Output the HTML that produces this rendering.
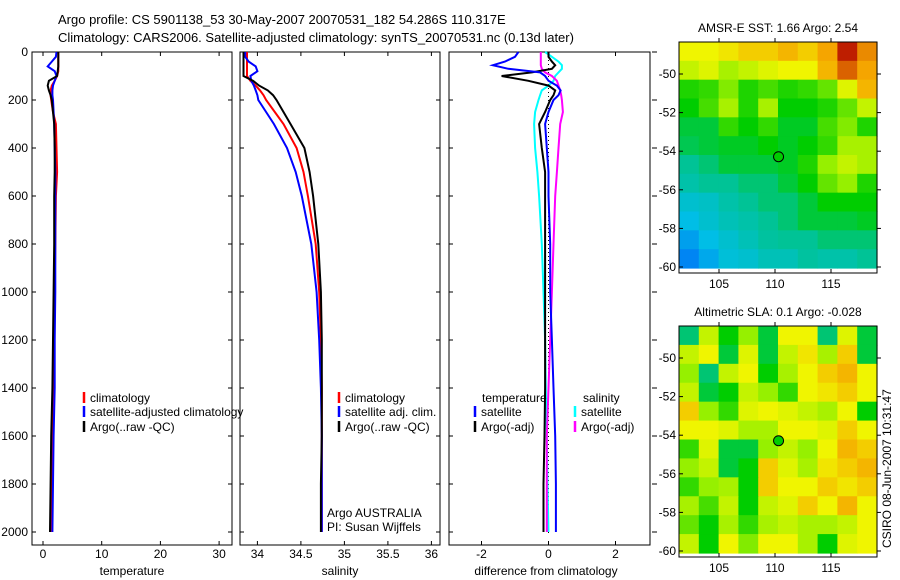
<!DOCTYPE html>
<html><head><meta charset="utf-8"><style>
html,body{margin:0;padding:0;background:#fff;}
svg{display:block;font-family:"Liberation Sans",sans-serif;}
</style></head><body>
<svg id="c" width="900" height="580" viewBox="0 0 900 580">
<text x="58" y="24" font-size="13">Argo profile: CS 5901138_53 30-May-2007 20070531_182 54.286S 110.317E</text>
<text x="58" y="42" font-size="13">Climatology: CARS2006. Satellite-adjusted climatology: synTS_20070531.nc (0.13d later)</text>
</svg>
<script>
const depths=[0,20,40,60,80,100,120,140,160,180,200,250,300,400,500,600,800,1000,1200,1400,1600,1800,2000];
const tempClim=[2.6,2.6,2.6,2.6,2.6,2.4,2.0,1.5,1.3,1.3,1.4,1.7,2.2,2.3,2.4,2.2,2.1,2.0,1.9,1.8,1.6,1.5,1.4];
const tempSat=[2.3,2.2,1.5,0.8,2.0,2.3,2.0,1.7,1.6,1.6,1.7,1.8,1.9,2.0,2.1,2.1,2.1,2.1,2.0,2.0,1.8,1.7,1.6];
const tempArgo=[2.6,2.6,2.6,2.6,2.5,2.4,1.0,0.8,1.0,1.3,1.5,1.7,1.9,2.0,2.0,1.9,1.9,1.8,1.7,1.6,1.4,1.3,1.2];
const salClim=[33.88,33.88,33.88,33.88,33.88,33.88,33.92,33.98,34.03,34.07,34.1,34.2,34.3,34.45,34.53,34.58,34.67,34.71,34.73,34.74,34.74,34.74,34.74];
const salSat=[33.86,33.86,33.9,33.98,34.0,33.92,33.93,33.96,33.98,34.0,34.01,34.1,34.19,34.34,34.44,34.51,34.62,34.68,34.71,34.73,34.74,34.74,34.74];
const salArgo=[33.84,33.84,33.84,33.84,33.84,33.84,33.95,34.02,34.12,34.18,34.22,34.3,34.38,34.54,34.6,34.64,34.70,34.73,34.74,34.74,34.74,34.73,34.73];
const diffDepths=[0,20,40,55,70,85,100,120,140,160,180,200,250,300,400,500,600,800,1000,1200,1400,1600,1800,2000];
const tempSatDiff=[-0.9,-1.0,-1.3,-1.66,-1.2,-0.25,-0.1,0.0,0.25,0.36,0.3,0.15,0.0,-0.1,-0.05,0.0,0.0,0.05,0.05,0.1,0.15,0.2,0.22,0.22];
const tempArgoDiff=[0,0,0.1,0.2,0.1,-0.5,-1.4,-0.6,0,0.2,0.15,0.05,-0.1,-0.28,-0.2,-0.1,-0.1,-0.1,-0.1,-0.1,-0.1,-0.12,-0.15,-0.15];
const salSatDiff=[-0.1,0.1,0.3,0.4,0.4,0.3,0.2,0.15,0.0,-0.2,-0.25,-0.3,-0.4,-0.43,-0.4,-0.33,-0.28,-0.2,-0.15,-0.1,-0.08,-0.05,-0.03,0.0];
const salArgoDiff=[-0.23,-0.23,-0.23,-0.23,-0.2,-0.1,0.1,0.25,0.3,0.35,0.38,0.4,0.43,0.35,0.3,0.25,0.2,0.15,0.1,0.05,0.0,-0.05,-0.05,-0.05];
const depthTicks=[0,200,400,600,800,1000,1200,1400,1600,1800,2000];
const tempTicks=[0,10,20,30];
const salTicks=[34,34.5,35,35.5,36];
const salTickLabels=["34","34.5","35","35.5","36"];
const diffTicks=[-2,0,2];
const latTicks=[50,52,54,56,58,60];
const lonTicks=[105,110,115];
const sstGrid=[
[.8,.8,.82,.85,.85,.88,.85,.9,1,.92],
[.75,.78,.72,.75,.78,.8,.8,.88,.95,.9],
[.58,.6,.68,.58,.62,.58,.6,.65,.78,.88],
[.55,.62,.72,.58,.72,.55,.55,.58,.65,.75],
[.5,.5,.6,.55,.6,.52,.52,.62,.68,.58],
[.48,.5,.52,.52,.55,.52,.55,.6,.72,.72],
[.42,.45,.5,.5,.5,.52,.58,.7,.75,.72],
[.38,.42,.42,.45,.45,.5,.55,.65,.7,.58],
[.3,.32,.38,.42,.45,.45,.5,.55,.55,.55],
[.25,.3,.35,.38,.42,.45,.5,.5,.5,.52],
[.18,.25,.3,.35,.4,.42,.42,.45,.45,.45],
[.12,.2,.28,.3,.35,.35,.4,.38,.38,.42]];
const slaGrid=[
[.45,.75,.55,.7,.5,.8,.8,.45,.78,.5],
[.75,.8,.5,.78,.5,.75,.82,.72,.85,.5],
[.7,.45,.75,.8,.55,.72,.8,.85,.88,.8],
[.75,.5,.55,.75,.7,.6,.8,.82,.85,.8],
[.85,.7,.6,.78,.8,.78,.75,.72,.8,.55],
[.8,.8,.78,.72,.72,.8,.8,.78,.85,.8],
[.6,.78,.5,.5,.7,.75,.7,.8,.88,.85],
[.7,.75,.5,.55,.85,.78,.72,.82,.85,.88],
[.6,.7,.72,.55,.85,.8,.8,.85,.82,.85],
[.72,.62,.75,.55,.75,.78,.85,.8,.88,.8],
[.65,.55,.72,.6,.72,.75,.72,.72,.75,.8],
[.75,.55,.8,.68,.8,.8,.72,.55,.78,.8]];
const argoLon=110.317, argoLat=54.286;

const NS="http://www.w3.org/2000/svg";
const svg=document.getElementById('c');
function mk(tag,attrs,parent){const e=document.createElementNS(NS,tag);for(const k in attrs)e.setAttribute(k,attrs[k]);(parent||svg).appendChild(e);return e;}
function txt(x,y,s,anchor,size,parent){const t=mk('text',{x:x,y:y,'font-size':size||12,'text-anchor':anchor||'start'},parent);t.textContent=s;return t;}

const yD=d=>52+d*0.24;
const xT=v=>43+v*5.87;
const xS=v=>240+(v-33.8)*87;
const xDf=v=>548.5+v*33.5;
const PT=52,PB=545;

function panel(name,x0,x1){
  const g=mk('g',{});
  
  
  const r=mk('rect',{x:x0,y:PT,width:x1-x0,height:PB-PT,fill:'none',stroke:'#000','stroke-width':1},g);
  
  
  return g;
}
function line(g,xs,ds,xf,color,name,w,dash){
  const pts=xs.map((v,i)=>xf(v).toFixed(1)+','+yD(ds[i]).toFixed(1)).join(' ');
  const p=mk('polyline',{points:pts,fill:'none',stroke:color,'stroke-width':w||2},g);
  if(dash)p.setAttribute('stroke-dasharray',dash);
  
  
}
function xticks(g,ticks,labels,xf){
  ticks.forEach((t,i)=>{const x=xf(t);
    mk('line',{x1:x,y1:PB,x2:x,y2:PB-4,stroke:'#000'},g);
    mk('line',{x1:x,y1:PT,x2:x,y2:PT+4,stroke:'#000'},g);
    const l=txt(x,558,labels[i],'middle',12,g);
    
    
  });
}
function legendRow(g,x,y,color,label){
  mk('line',{x1:x,y1:y-10,x2:x,y2:y+1,stroke:color,'stroke-width':2.5},g);
  const t=txt(x+6,y,label,'start',12,g);
  
  
}

// Panel 1 temperature
const g1=panel('temperature-panel',32,232);
depthTicks.forEach(d=>{const y=yD(d);
  mk('line',{x1:32,y1:y,x2:36,y2:y,stroke:'#000'},g1);
  mk('line',{x1:232,y1:y,x2:228,y2:y,stroke:'#000'},g1);
  const l=txt(28,y+4,String(d),'end',12,g1);
  
  
});
xticks(g1,tempTicks,tempTicks.map(String),xT);
line(g1,tempClim,depths,xT,'#f00','temp-climatology-line');
line(g1,tempSat,depths,xT,'#00f','temp-satellite-line');
line(g1,tempArgo,depths,xT,'#000','temp-argo-line');
const t1=txt(132,575,'temperature','middle',12,g1);


legendRow(g1,84,402,'#f00','climatology');
legendRow(g1,84,416,'#00f','satellite-adjusted climatology');
legendRow(g1,84,431,'#000','Argo(..raw -QC)');

// Panel 2 salinity
const g2=panel('salinity-panel',240,440);
depthTicks.forEach(d=>{const y=yD(d);
  mk('line',{x1:240,y1:y,x2:244,y2:y,stroke:'#000'},g2);
  mk('line',{x1:440,y1:y,x2:436,y2:y,stroke:'#000'},g2);});
xticks(g2,salTicks,salTickLabels,xS);
line(g2,salClim,depths,xS,'#f00','sal-climatology-line');
line(g2,salSat,depths,xS,'#00f','sal-satellite-line');
line(g2,salArgo,depths,xS,'#000','sal-argo-line');
const t2=txt(340,575,'salinity','middle',12,g2);


legendRow(g2,339,402,'#f00','climatology');
legendRow(g2,339,416,'#00f','satellite adj. clim.');
legendRow(g2,339,431,'#000','Argo(..raw -QC)');
const a1=txt(327,517,'Argo AUSTRALIA','start',12,g2);


const a2=txt(327,531,'PI: Susan Wijffels','start',12,g2);



// Panel 3 difference
const g3=panel('difference-panel',449,650);
depthTicks.forEach(d=>{const y=yD(d);
  mk('line',{x1:449,y1:y,x2:453,y2:y,stroke:'#000'},g3);
  mk('line',{x1:652,y1:y,x2:657,y2:y,stroke:'#000'},g3);});
xticks(g3,diffTicks,diffTicks.map(String),xDf);
const zl=mk('line',{x1:xDf(0),y1:PT,x2:xDf(0),y2:PB-10,stroke:'#000','stroke-width':1,'stroke-dasharray':'1,3'},g3);


line(g3,salSatDiff,diffDepths,xDf,'#0ff','sal-satellite-diff-line');
line(g3,salArgoDiff,diffDepths,xDf,'#f0f','sal-argo-diff-line');
line(g3,tempArgoDiff,diffDepths,xDf,'#000','temp-argo-diff-line');
line(g3,tempSatDiff,diffDepths,xDf,'#00f','temp-satellite-diff-line');
const t3=txt(546,575,'difference from climatology','middle',12,g3);


const h1=txt(482,402,'temperature','start',12,g3);


const h2=txt(583,402,'salinity','start',12,g3);


legendRow(g3,475,416,'#00f','satellite');
legendRow(g3,475,431,'#000','Argo(-adj)');
legendRow(g3,575,416,'#0ff','satellite');
legendRow(g3,575,431,'#f0f','Argo(-adj)');

// colormap
const stops=[[0,[0,80,255]],[0.25,[0,190,230]],[0.42,[0,195,150]],[0.55,[0,205,0]],[0.7,[150,240,0]],[0.8,[240,245,0]],[0.9,[245,165,0]],[1,[190,30,0]]];
function cmap(v){for(let i=1;i<stops.length;i++){if(v<=stops[i][0]){const a=stops[i-1],b=stops[i];const f=(v-a[0])/(b[0]-a[0]);const c=a[1].map((x,k)=>Math.round(x+(b[1][k]-x)*f));return 'rgb('+c.join(',')+')';}}return 'rgb(190,30,0)';}

function mapPanel(name,grid,top,imgBot,frameBot,lat50y,lat60y,title){
  const g=mk('g',{});
  
  
  const x0=679,x1=877;
  const lonX=lon=>775+(lon-110)*11.2;
  const latY=lat=>lat50y+(lat-50)*(lat60y-lat50y)/10;
  const rows=grid.length,cols=grid[0].length;
  const cw=(x1-x0)/cols,ch=(imgBot-top)/rows;
  grid.forEach((row,r)=>row.forEach((v,c)=>{
    const cell=mk('rect',{x:(x0+c*cw).toFixed(2),y:(top+r*ch).toFixed(2),width:(cw+0.6).toFixed(2),height:(ch+0.6).toFixed(2),fill:cmap(v)},g);
    
    
  }));
  const fr=mk('rect',{x:x0,y:top,width:x1-x0,height:frameBot-top,fill:'none',stroke:'#000'},g);
  
  
  latTicks.forEach(l=>{const y=latY(l);
    mk('line',{x1:x0,y1:y,x2:x0+4,y2:y,stroke:'#000'},g);
    mk('line',{x1:x1,y1:y,x2:x1+4,y2:y,stroke:'#000'},g);
    const t=txt(676,y+4,'-'+l,'end',12,g);
    
    });
  lonTicks.forEach(l=>{const x=lonX(l);
    mk('line',{x1:x,y1:top,x2:x,y2:top-4,stroke:'#000'},g);
    mk('line',{x1:x,y1:frameBot,x2:x,y2:frameBot-4,stroke:'#000'},g);
    const t=txt(x,frameBot+15,String(l),'middle',12,g);
    
    });
  const c=mk('circle',{cx:lonX(argoLon),cy:latY(argoLat),r:5,fill:'#00cc00',stroke:'#000','stroke-width':1},g);
  
  
  const tt=txt(778,top-10,title,'middle',12,g);
  
  
}
mapPanel('sst-map',sstGrid,42,268,273,74,267,'AMSR-E SST: 1.66 Argo: 2.54');
mapPanel('sla-map',slaGrid,326,553,557,358,551,'Altimetric SLA: 0.1 Argo: -0.028');
const ts=txt(0,0,'CSIRO 08-Jun-2007 10:31:47','start',12);
ts.setAttribute('transform','translate(891,548) rotate(-90)');


</script>
</body></html>
